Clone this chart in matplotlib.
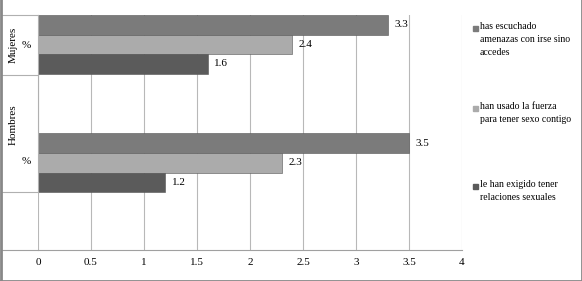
import matplotlib.pyplot as plt
from matplotlib.lines import Line2D
from matplotlib.patches import Rectangle

# data
groups = ['Mujeres', 'Hombres']
sub_label = '%'
series_names = ['has escuchado\namenazas con irse sino\naccedes',
                'han usado la fuerza\npara tener sexo contigo',
                'le han exigido tener\nrelaciones sexuales']
amenazas = [3.3, 3.5]
fuerza = [2.4, 2.3]
exigido = [1.6, 1.2]
xticks = [0, 0.5, 1, 1.5, 2, 2.5, 3, 3.5, 4]

colors = ['#7b7b7b', '#ababab', '#5b5b5b']
serif = 'Liberation Serif'
plt.rcParams['font.family'] = serif

W, H = 582, 281
fig = plt.figure(figsize=(W / 100, H / 100), dpi=100)
x0, x1, ytop, ybot = 38, 462, 15, 250
ax = fig.add_axes([x0 / W, 1 - ybot / H, (x1 - x0) / W, (ybot - ytop) / H])

# group start offsets (bar units, from top)
starts = [0, 6.05]
values = [amenazas, fuerza, exigido]
for gi, s in enumerate(starts):
    for si in range(3):
        yc = s + 0.5 + si
        v = values[si][gi]
        ax.barh(yc, v, height=1.0, color=colors[si], edgecolor='#555555', linewidth=0.4, zorder=3)
        ax.text(v + 0.06, yc, '%.1f' % v, va='center', ha='left', fontsize=8, zorder=4)

ax.set_xlim(0, 4)
ax.set_ylim(12, 0)
ax.set_xticks(xticks)
ax.set_xticklabels(['%g' % t for t in xticks], fontsize=8)
ax.set_yticks([])
ax.grid(axis='x', color='#b8b8b8', linewidth=0.8, zorder=0)
ax.tick_params(axis='x', length=0, pad=6)
for sp in ['top', 'right']:
    ax.spines[sp].set_visible(False)
ax.spines['left'].set_visible(False)
ax.spines['bottom'].set_color('#a0a0a0')

# category table on the left
def fy(py):
    return 1 - py / H

lc = '#b0b0b0'
for py in [15, 75, 192]:
    fig.add_artist(Line2D([2 / W, 38 / W], [fy(py), fy(py)], color=lc, lw=0.8))
fig.add_artist(Line2D([38 / W, 38 / W], [fy(15), fy(192)], color=lc, lw=0.8))
fig.add_artist(Line2D([2 / W, 38 / W], [fy(250), fy(250)], color='#a0a0a0', lw=0.8))

fig.text(13 / W, fy(45), groups[0], rotation=90, ha='center', va='center', fontsize=8)
fig.text(26 / W, fy(45), sub_label, ha='center', va='center', fontsize=8)
fig.text(13 / W, fy(125), groups[1], rotation=90, ha='center', va='center', fontsize=8)
fig.text(26 / W, fy(162), sub_label, ha='center', va='center', fontsize=8)

# legend
leg_y = [28, 108, 186]
for i, name in enumerate(series_names):
    fig.add_artist(Rectangle((473 / W, fy(leg_y[i] + 3)), 5 / W, 5 / H, color=colors[i]))
    fig.text(480 / W, fy(leg_y[i] - 6), name, ha='left', va='top', fontsize=7, linespacing=1.6)

# image border
bc = '#888888'
fig.add_artist(Line2D([0.5 / W, 0.5 / W], [0, 1], color=bc, lw=2))
fig.add_artist(Line2D([1 - 0.5 / W, 1 - 0.5 / W], [0, 1], color=bc, lw=2))
fig.add_artist(Line2D([0, 1], [0.5 / H, 0.5 / H], color=bc, lw=2))

fig.savefig('out.png', dpi=100)
